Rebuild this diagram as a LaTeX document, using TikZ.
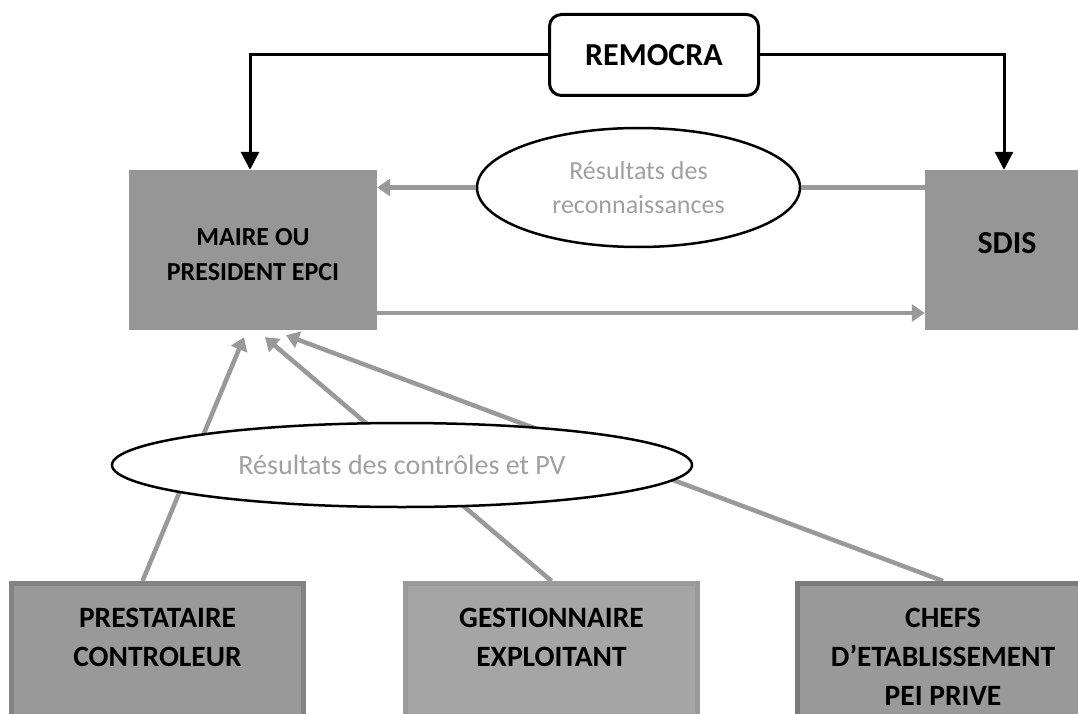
\documentclass[tikz,border=0pt]{standalone}
\usepackage{fontspec}
\setmainfont{Carlito}
\usepackage{tikz}
\usetikzlibrary{positioning,arrows.meta,shapes.geometric,backgrounds}
\definecolor{boxgris}{HTML}{969696}
\definecolor{lignegris}{HTML}{999999}
\definecolor{textegris}{HTML}{A0A0A0}
\definecolor{prestfond}{HTML}{999999}
\definecolor{prestbord}{HTML}{838383}
\definecolor{gestfond}{HTML}{A5A5A5}
\definecolor{gestbord}{HTML}{9A9A9A}
\definecolor{chefbord}{HTML}{7A7A7A}
\newcommand{\boxtxt}[1]{\parbox[c][140pt][t]{285pt}{\centering\vspace*{22pt}#1}}

\begin{document}
\begin{tikzpicture}[
  x=1pt,y=-1pt,
  noir/.style={line width=3pt,black,-{Triangle[length=18pt,width=18pt]}},
  gris/.style={line width=4.5pt,lignegris},
  grisfl/.style={gris,-{Triangle[length=13pt,width=17pt]}},
  tete/.style={rectangle,draw,line width=3pt,rounded corners=12pt,fill=white,
               minimum width=209pt,minimum height=81pt,
               font=\bfseries\fontsize{32}{38}\selectfont},
  acteur/.style={rectangle,fill=boxgris,align=center,minimum height=160pt,
                 inner sep=0pt,font=\bfseries\fontsize{26}{35}\selectfont},
  bulle/.style={ellipse,draw,line width=2.5pt,fill=white,inner sep=0pt,
                align=center,text=textegris},
  bas/.style={rectangle,line width=5pt,minimum width=292pt,minimum height=145pt,
              inner sep=0pt,font=\bfseries\fontsize{29.5}{39}\selectfont}
]
\useasboundingbox (0,0) rectangle (1078,714);

\node[tete] (remocra) at (654,55) {REMOCRA};
\node[acteur,minimum width=248pt] (maire) at (253,250)
  {\raisebox{-5pt}[\height][\depth]{\parbox{240pt}{\centering MAIRE OU\\PRESIDENT EPCI}}};
\node[acteur,minimum width=164pt,font=\bfseries\fontsize{32}{38}\selectfont] (sdis) at (1007,250)
  {\raisebox{7pt}[\height][\depth]{SDIS}};
\node[bulle,minimum width=323pt,minimum height=119pt,
      font=\fontsize{26}{34}\selectfont] (reco) at (638.5,187.5) {Résultats des\\reconnaissances};
\node[bulle,minimum width=580pt,minimum height=84pt,
      font=\fontsize{28}{34}\selectfont] (ctrl) at (402,465) {Résultats des contrôles et PV};

\node[bas,draw=prestbord,fill=prestfond] (presta) at (157.5,656) {\boxtxt{PRESTATAIRE\\CONTROLEUR}};
\node[bas,draw=gestbord,fill=gestfond] (gest) at (551.5,656) {\boxtxt{GESTIONNAIRE\\EXPLOITANT}};
\node[bas,draw=chefbord,fill=prestfond] (chefs) at (943,656) {\boxtxt{CHEFS\\D’ETABLISSEMENT\\PEI PRIVE}};

\draw[noir] (remocra.west) -| ([xshift=-3pt]maire.north);
\draw[noir] (remocra.east) -| ([xshift=-3pt]sdis.north);

\draw[grisfl] (reco.west) -- (reco.west -| maire.east);
\draw[gris] (sdis.west |- reco.east) -- (reco.east);
\draw[grisfl] ([yshift=-63pt]maire.east) -- ([yshift=-63pt]maire.east -| sdis.west);

% remontees des controles vers le maire, sous la bulle
\begin{scope}[on background layer]
  \draw[grisfl] ([xshift=-15pt]presta.north) -- ([xshift=-9pt,yshift=-7pt]maire.south);
  \draw[grisfl] (gest.north) -- ([xshift=12pt,yshift=-7pt]maire.south);
  \draw[grisfl] (chefs.north) -- ([xshift=33pt,yshift=-5pt]maire.south);
\end{scope}
\end{tikzpicture}
\end{document}
